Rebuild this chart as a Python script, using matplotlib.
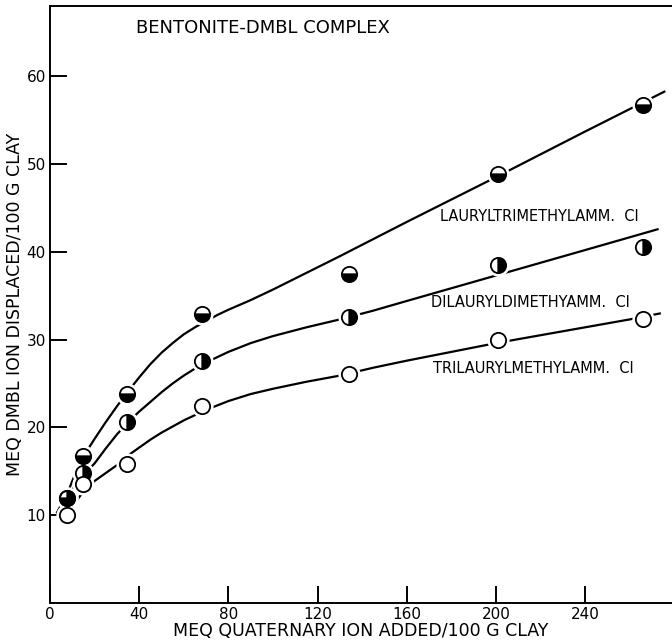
import matplotlib
matplotlib.use("Agg")
import matplotlib.pyplot as plt

# measured points (x = meq quaternary ion added / 100 g clay)
x_pts = [7.5, 15, 34.5, 68, 134, 201, 266]
lauryl = [12.0, 16.8, 23.8, 32.9, 37.5, 48.9, 56.7]
dilauryl = [12.0, 14.8, 20.6, 27.6, 32.6, 38.5, 40.5]
trilauryl = [10.0, 13.5, 15.8, 22.4, 26.1, 30.0, 32.3]

# hand-drawn smooth curves
lauryl_cx = [3, 5, 7.5, 10, 12.5, 15, 20, 25, 30, 35, 40, 45, 50, 55, 60, 65, 70, 75, 80,
             90, 100, 115, 130, 160, 200, 240, 276]
lauryl_cy = [10.2, 11.2, 12.3, 13.9, 15.4, 16.7, 18.7, 20.6, 22.4, 24.1, 25.7, 27.2, 28.5,
             29.6, 30.6, 31.4, 32.1, 32.8, 33.4, 34.5, 35.7, 37.6, 39.5, 43.4, 48.5, 53.7, 58.3]
dilauryl_cx = [3, 5, 7.5, 10, 12.5, 15, 20, 25, 30, 35, 40, 45, 50, 55, 60, 65, 70, 75, 80,
               90, 100, 115, 130, 145, 160, 200, 240, 273]
dilauryl_cy = [10.2, 11.0, 12.0, 12.9, 13.7, 14.6, 15.9, 17.6, 19.2, 20.6, 21.8, 22.9, 24.0,
               25.0, 25.9, 26.7, 27.4, 28.0, 28.6, 29.6, 30.4, 31.4, 32.3, 33.3, 34.4, 37.3,
               40.2, 42.6]
trilauryl_cx = [7.5, 10, 15, 20, 25, 30, 35, 40, 45, 50, 55, 60, 65, 70, 75, 80, 90, 100,
                115, 130, 145, 160, 180, 200, 220, 240, 260, 274]
trilauryl_cy = [10.0, 11.0, 12.7, 13.9, 14.8, 15.7, 16.8, 17.7, 18.6, 19.4, 20.1, 20.8, 21.4,
                22.0, 22.5, 23.0, 23.8, 24.4, 25.2, 25.9, 26.8, 27.6, 28.6, 29.6, 30.5, 31.4,
                32.3, 33.0]

x_ticks = [0, 40, 80, 120, 160, 200, 240]
y_ticks = [10, 20, 30, 40, 50, 60]

fig = plt.figure(figsize=(6.72, 6.41), dpi=100)
ax = fig.add_axes([50 / 672, 38 / 641, 622 / 672, 597 / 641])

curves = [(lauryl_cx, lauryl_cy), (dilauryl_cx, dilauryl_cy), (trilauryl_cx, trilauryl_cy)]
for cx, cy in curves:
    ax.plot(cx, cy, color="black", lw=1.6, zorder=2, solid_capstyle="butt",
            solid_joinstyle="round")

series = [(lauryl, "bottom"), (dilauryl, "right"), (trilauryl, "none")]
for ys, fs in series:
    # white halo to break the curve around each marker
    ax.plot(x_pts, ys, "o", ms=15, color="white", mec="white", zorder=3)
for ys, fs in series:
    if fs == "none":
        ax.plot(x_pts, ys, "o", ms=11, mfc="white", mec="black", mew=1.3, zorder=4)
    else:
        ax.plot(x_pts, ys, "o", ms=11, fillstyle=fs, mfc="black", mfcalt="none",
                mec="black", mew=1.3, zorder=4)

ax.set_xlim(0, 279)
ax.set_ylim(0, 68)
ax.spines["right"].set_visible(False)
for s in ["left", "bottom", "top"]:
    ax.spines[s].set_linewidth(1.4)

ax.set_xticks(x_ticks)
ax.set_yticks(y_ticks)
ax.tick_params(direction="in", length=12, width=1.4, labelsize=11)
ax.tick_params(axis="x", pad=3)
ax.tick_params(axis="y", pad=3)

ax.set_xlabel("MEQ QUATERNARY ION ADDED/100 G CLAY", fontsize=12.5, labelpad=0)
ax.set_ylabel("MEQ DMBL ION DISPLACED/100 G CLAY", fontsize=12.5, labelpad=2)

ax.text(38.5, 65.5, "BENTONITE-DMBL COMPLEX", fontsize=13, va="center", ha="left")
ax.text(175, 44.0, "LAURYLTRIMETHYLAMM.  CI", fontsize=10.5, va="center", ha="left")
ax.text(171, 34.2, "DILAURYLDIMETHYAMM.  CI", fontsize=10.5, va="center", ha="left")
ax.text(172, 26.7, "TRILAURYLMETHYLAMM.  CI", fontsize=10.5, va="center", ha="left")

fig.savefig("out.png", dpi=100)
